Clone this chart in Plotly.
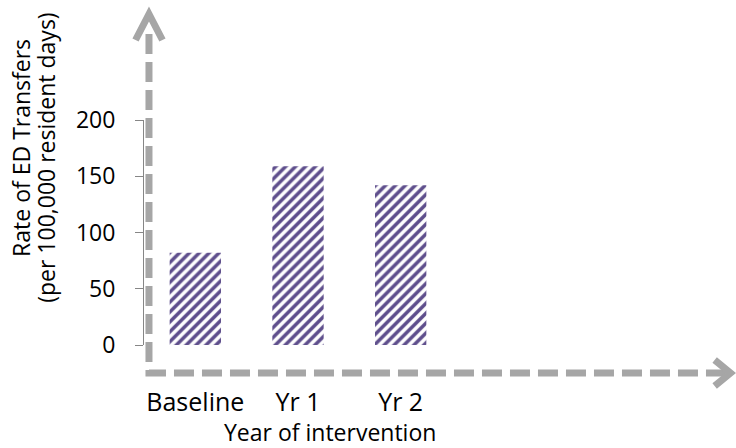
import plotly.graph_objects as go

categories = ["Baseline", "Yr 1", "Yr 2"]
rates = [82, 159, 142]
y_ticks = [0, 50, 100, 150, 200]
x_title = "Year of intervention"
y_title_lines = ["Rate of ED Transfers", "(per 100,000 resident days)"]

W, H = 736, 448
L, R, T, B = 143.5, 283.5, 120, 103
PW, PH = W - L - R, H - T - B


def px(x):
    return (x - L) / PW


def py(y):
    return (H - B - y) / PH


FONT = "Open Sans"
AX = "#a6a6a6"

fig = go.Figure(
    go.Bar(
        x=list(range(len(categories))),
        y=rates,
        width=0.5,
        marker=dict(
            color="white",
            line=dict(width=0),
            pattern=dict(shape="/", fgcolor="#5e4e8c", bgcolor="white", fgopacity=1,
                         fillmode="replace", size=7, solidity=0.5),
        ),
        hoverinfo="skip",
    )
)

shapes = [
    dict(type="path", xref="paper", yref="paper",
         path=f"M {px(148.5)},{py(34)} L {px(148.5)},{py(373)} L {px(727)},{py(373)}",
         line=dict(color=AX, width=7, dash="20px,8px")),
    dict(type="path", xref="paper", yref="paper",
         path=f"M {px(135)},{py(40)} L {px(148.5)},{py(14)} L {px(162)},{py(40)}",
         line=dict(color=AX, width=7)),
    dict(type="path", xref="paper", yref="paper",
         path=f"M {px(716)},{py(360)} L {px(732)},{py(373)} L {px(716)},{py(386)}",
         line=dict(color=AX, width=7)),
]

annotations = [
    dict(text=x_title, xref="paper", yref="paper",
         x=px(330), y=py(432), showarrow=False, xanchor="center", yanchor="middle",
         font=dict(family=FONT, size=23, color="black")),
    dict(text=y_title_lines[0], xref="paper", yref="paper",
         x=px(20), y=py(148), showarrow=False, xanchor="center", yanchor="middle",
         textangle=-90, font=dict(family=FONT, size=23, color="black")),
    dict(text=y_title_lines[1], xref="paper", yref="paper",
         x=px(45), y=py(158), showarrow=False, xanchor="center", yanchor="middle",
         textangle=-90, font=dict(family=FONT, size=23, color="black")),
]

fig.update_layout(
    width=W, height=H,
    margin=dict(l=L, r=R, t=T, b=B, pad=0),
    paper_bgcolor="white", plot_bgcolor="white",
    showlegend=False,
    shapes=shapes,
    annotations=annotations,
    font=dict(family=FONT, size=23, color="black"),
    xaxis=dict(
        range=[-0.5, 2.5], tickvals=list(range(len(categories))), ticktext=categories,
        showgrid=False, zeroline=False, showline=False, ticks="",
        ticklabelstandoff=40, tickfont=dict(size=25),
    ),
    yaxis=dict(
        range=[0, 200], tickvals=y_ticks, showgrid=False, zeroline=False,
        showline=True, linecolor="#868686", linewidth=1,
        ticks="outside", ticklen=8, tickcolor="#868686", tickwidth=1,
        ticklabelstandoff=15, tickfont=dict(size=23),
    ),
)

fig.write_html("out.html", config={"displayModeBar": False},
               post_script="document.body.style.margin='0px';")
